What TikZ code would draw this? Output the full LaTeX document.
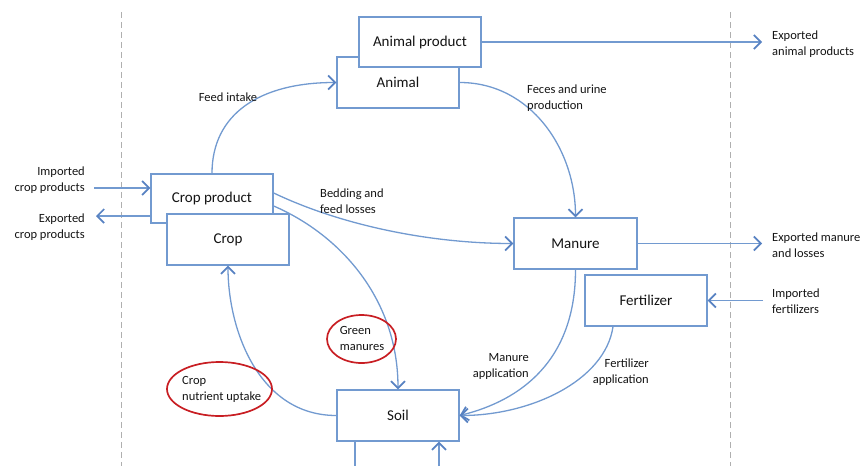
\documentclass[tikz,border=0pt]{standalone}
\usepackage{fontspec}
\setmainfont{Carlito}
\usetikzlibrary{arrows.meta,shapes.geometric}
\definecolor{flow}{RGB}{114,154,208}
\definecolor{tipc}{RGB}{88,130,194}
\definecolor{ring}{RGB}{200,30,35}
\definecolor{txt}{RGB}{20,20,20}
\definecolor{bound}{RGB}{175,175,175}
\begin{document}
\begin{tikzpicture}[x=1pt,y=-1pt,
  box/.style={draw=flow, line width=1.4pt, fill=white, minimum width=122pt,
    minimum height=50pt, inner sep=0pt, font=\fontsize{15}{18}\selectfont, text=txt},
  lab/.style={font=\fontsize{12.5}{16}\selectfont, text=txt, inner sep=0pt},
  flowline/.style={draw=flow, line width=1.3pt},
  arr/.style={flowline, -{Straight Barb[length=7pt,width=14pt,line width=1.7pt,color=tipc]}},
  ringnode/.style={draw=ring, line width=1.7pt, ellipse, inner sep=0pt},
  limit/.style={draw=bound, line width=1pt, dash pattern=on 6pt off 4pt}]
\useasboundingbox (0,0) rectangle (865,466);

% system boundaries
\coordinate (lbTop) at (121,12);
\coordinate (lbBot) at (121,466);
\coordinate (rbTop) at (730,12);
\coordinate (rbBot) at (730,466);
\draw[limit] (lbTop) -- (lbBot);
\draw[limit] (rbTop) -- (rbBot);

% compartments
\node[box, minimum height=51pt] (animal) at (398,82.5) {Animal};
\node[box] (animalprod) at (420,42) {Animal product};
\node[box, minimum height=49pt] (cropprod) at (212,198.5) {Crop product};
\node[box, minimum height=51pt] (crop) at (228,239.5) {Crop};
\node[box, minimum width=123pt, minimum height=51pt] (manure) at (575.5,243.5) {Manure};
\node[box, minimum height=51pt] (fert) at (646,300.5) {Fertilizer};
\node[box, minimum height=51pt] (soil) at (398,415.5) {Soil};

% outside ends
\coordinate (icp) at (94,188);
\coordinate (ecp) at (96,216);
\coordinate (eap) at (762,42);
\coordinate (emn) at (762,243.5);
\coordinate (ifz) at (763,300.5);
\coordinate (soilOut) at (355,466);
\coordinate (soilIn) at (439,466);

% exchanges across the boundaries
\draw[arr] (icp) -- (icp -| cropprod.west);
\draw[arr] (ecp -| cropprod.west) -- (ecp);
\draw[arr] (animalprod.east) -- (eap);
\draw[arr] (manure.east) -- (emn);
\draw[arr] (ifz) -- (fert.east);
\draw[flowline] (soilOut |- soil.south) -- (soilOut);
\draw[arr] (soilIn) -- (soilIn |- soil.south);

% internal flows
\draw[arr] (cropprod.north) .. controls +(0,-59) and +(-77,0) .. (animal.west);
\draw[arr] (animal.east) .. controls +(71,0) and +(0,-68) .. (manure.north);
\draw[arr] ([yshift=5.5pt]cropprod.east) .. controls +(67,32) and +(-84,0) .. (manure.west);
\draw[arr] ([yshift=-7.5pt]cropprod.east) .. controls +(67,29) and +(0,-90) .. (soil.north);
\draw[arr] (soil.west) .. controls +(-77,0) and +(0,65) .. (crop.south);
\draw[arr] (manure.south) .. controls +(0,91) and +(61,-15) .. (soil.east);
\draw[arr] ([xshift=-33pt]fert.south) .. controls +(-8,54) and +(71,0) .. (soil.east);

% flow labels
\node[lab, anchor=east, align=right] (lImpCrop) at (85,180) {Imported\\crop products};
\node[lab, anchor=east, align=right] (lExpCrop) at (85,227.5) {Exported\\crop products};
\node[lab] (lFeed) at (228,97) {Feed intake};
\node[lab, anchor=west, align=left] (lFeces) at (527,98) {Feces and urine\\production};
\node[lab, anchor=west, align=left] (lBed) at (320,201) {Bedding and\\feed losses};
\node[lab, anchor=west, align=left] (lExpAn) at (772,44) {Exported\\animal products};
\node[lab, anchor=west, align=left] (lExpMan) at (772,245) {Exported manure\\and losses};
\node[lab, anchor=west, align=left] (lImpFert) at (772,301) {Imported\\fertilizers};
\node[lab, align=left] (lGreen) at (362,338.5) {Green\\manures};
\node[lab, anchor=west, align=left] (lUptake) at (182,389) {Crop\\nutrient uptake};
\node[lab, anchor=east, align=right] (lManApp) at (529,366) {Manure\\application};
\node[lab, anchor=east, align=right] (lFertApp) at (649,372.5) {Fertilizer\\application};

% highlighted labels
\node[ringnode, minimum width=69pt, minimum height=48pt] (ringGreen) at (361.5,339) {};
\node[ringnode, minimum width=105pt, minimum height=54pt] (ringUptake) at (219.5,389) {};
\end{tikzpicture}
\end{document}
